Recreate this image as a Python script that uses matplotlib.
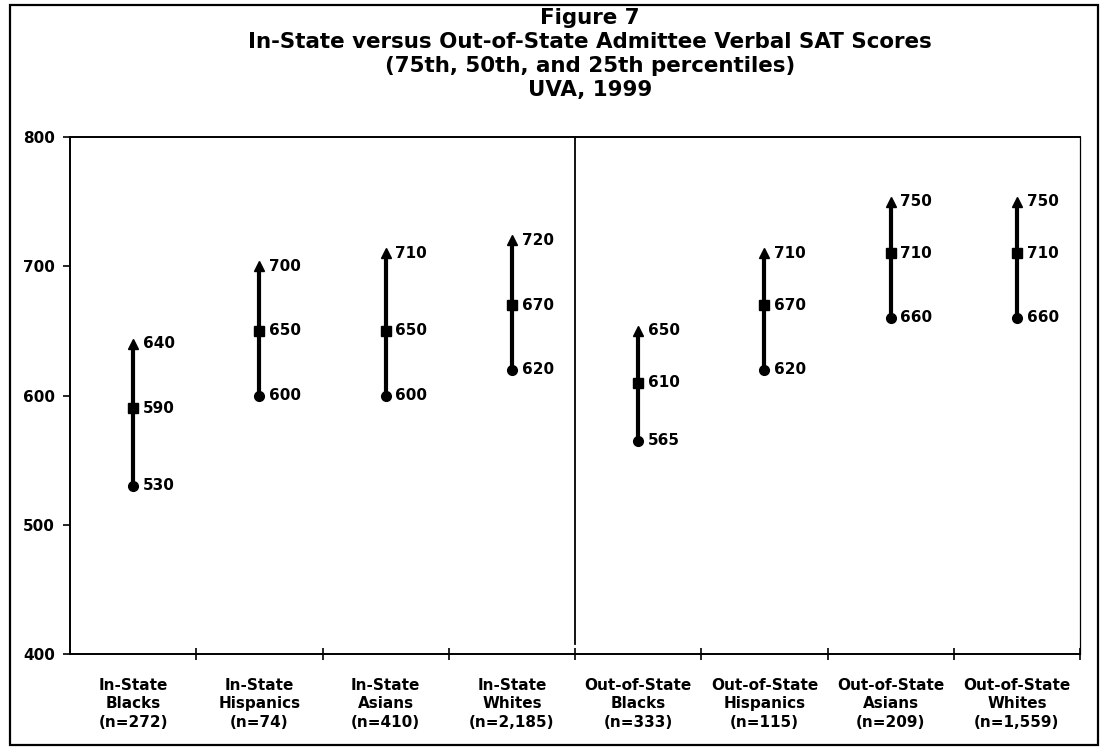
import matplotlib
matplotlib.use("Agg")
import matplotlib.pyplot as plt
from matplotlib.patches import Rectangle

plt.rcParams['font.family'] = ['DejaVu Sans']

categories = ["In-State\nBlacks\n(n=272)", "In-State\nHispanics\n(n=74)",
              "In-State\nAsians\n(n=410)", "In-State\nWhites\n(n=2,185)",
              "Out-of-State\nBlacks\n(n=333)", "Out-of-State\nHispanics\n(n=115)",
              "Out-of-State\nAsians\n(n=209)", "Out-of-State\nWhites\n(n=1,559)"]
p75 = [640, 700, 710, 720, 650, 710, 750, 750]
p50 = [590, 650, 650, 670, 610, 670, 710, 710]
p25 = [530, 600, 600, 620, 565, 620, 660, 660]
title_lines = ["Figure 7",
               "In-State versus Out-of-State Admittee Verbal SAT Scores",
               "(75th, 50th, and 25th percentiles)",
               "UVA, 1999"]
yticks = [400, 500, 600, 700, 800]

W, H = 1102, 749
fig = plt.figure(figsize=(W / 100, H / 100), dpi=100)
fig.patch.set_facecolor("white")

# outer border
fig.patches.append(Rectangle((10 / W, 1 - 745 / H), 1088 / W, 740 / H,
                             transform=fig.transFigure, fill=False,
                             edgecolor="black", linewidth=1.6))

ax = fig.add_axes([70 / W, 1 - 654 / H, 1010 / W, 517 / H])
n = len(categories)
xs = [i + 0.5 for i in range(n)]

for x, hi, mid, lo in zip(xs, p75, p50, p25):
    ax.plot([x, x], [lo, hi], color="black", linewidth=3.0, solid_capstyle="butt", zorder=2)
    ax.plot([x], [hi], marker="^", color="black", markersize=6.5, zorder=3)
    ax.plot([x], [mid], marker="s", color="black", markersize=6.5, zorder=3)
    ax.plot([x], [lo], marker="o", color="black", markersize=7, zorder=3)
    for v in (hi, mid, lo):
        ax.annotate(str(v), (x, v), xytext=(7, 0), textcoords="offset points",
                    ha="left", va="center", fontsize=11, fontweight="bold")

# separator between in-state and out-of-state
ax.plot([n / 2, n / 2], [800, 408], color="black", linewidth=1.3, zorder=1)

ax.set_xlim(0, n)
ax.set_ylim(400, 800)
ax.set_yticks(yticks)
ax.set_yticklabels([str(t) for t in yticks], fontsize=11, fontweight="bold")
ax.tick_params(axis="y", direction="out", length=5, width=1.2, pad=6)

ax.set_xticks(xs)
ax.set_xticklabels(categories, fontsize=11, fontweight="bold", linespacing=1.3)
ax.tick_params(axis="x", which="major", length=0, pad=17)
ax.set_xticks(list(range(1, n + 1)), minor=True)
ax.tick_params(axis="x", which="minor", direction="inout", length=9, width=1.2)

for side in ["left", "bottom", "top"]:
    ax.spines[side].set_linewidth(1.4)
ax.spines["right"].set_linewidth(0.9)

title_y = [18, 42, 66, 90]
for txt, yy in zip(title_lines, title_y):
    fig.text(590 / W, 1 - yy / H, txt, ha="center", va="center",
             fontsize=15.4, fontweight="bold")

fig.savefig("out.png", dpi=100)
